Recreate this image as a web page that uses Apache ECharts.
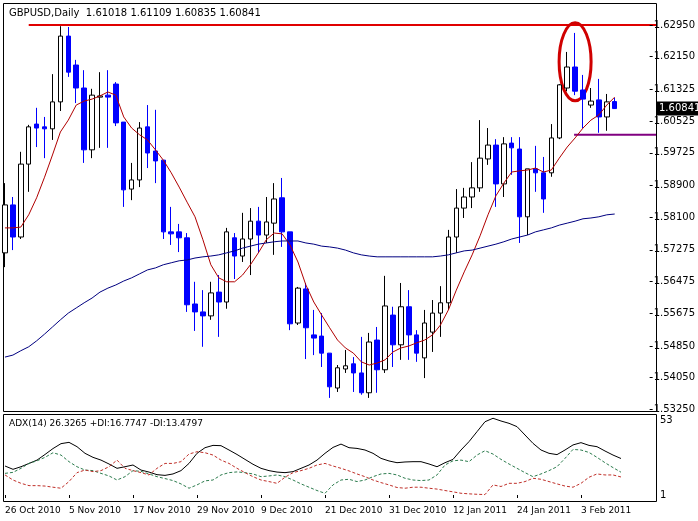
<!DOCTYPE html>
<html>
<head>
<meta charset="utf-8">
<script src="https://cdn.jsdelivr.net/npm/echarts@6/dist/echarts.min.js"></script>
<style>html,body{margin:0;padding:0;background:#fff;}#chart{width:698px;height:521px;}</style>
</head>
<body>
<div id="chart"></div>
<script>
// GBPUSD daily candles, 26 Oct 2010 .. 10 Feb 2011 (weekdays)
const opens = [1.5720,1.5841,1.5760,1.5944,1.6045,1.6038,1.6033,1.6101,1.6267,1.6194,
  1.6136,1.5980,1.6113,1.6118,1.6146,1.6050,1.5881,1.5904,1.6038,1.5977,
  1.5954,1.5773,1.5773,1.5758,1.5591,1.5571,1.5561,1.5621,1.5596,1.5758,
  1.5712,1.5755,1.5800,1.5765,1.5795,1.5859,1.5773,1.5543,1.5629,1.5513,
  1.5510,1.5467,1.5379,1.5427,1.5440,1.5417,1.5367,1.5500,1.5425,1.5563,
  1.5488,1.5584,1.5513,1.5455,1.5520,1.5568,1.5594,1.5760,1.5833,1.5861,
  1.5884,1.5957,1.5992,1.5894,1.5997,1.5982,1.5811,1.5932,1.5922,1.5922,
  1.6010,1.6136,1.6189,1.6131,1.6093,1.6106,1.6063,1.61018];
const closes = [1.5841,1.5760,1.5944,1.6038,1.6035,1.6033,1.6101,1.6267,1.6176,1.6136,
  1.5980,1.6118,1.6116,1.6113,1.6048,1.5879,1.5904,1.6035,1.5972,1.5952,
  1.5773,1.5768,1.5758,1.5589,1.5571,1.5561,1.5619,1.5596,1.5773,1.5712,
  1.5755,1.5800,1.5765,1.5798,1.5856,1.5773,1.5541,1.5631,1.5531,1.5505,
  1.5467,1.5382,1.5430,1.5435,1.5417,1.5367,1.5495,1.5425,1.5586,1.5488,
  1.5584,1.5513,1.5467,1.5543,1.5568,1.5594,1.5760,1.5833,1.5861,1.5884,
  1.5959,1.5992,1.5894,1.5995,1.5985,1.5811,1.5932,1.5922,1.5856,1.6010,
  1.6144,1.6189,1.6128,1.6108,1.6103,1.6063,1.6101,1.60841];
const lows = [1.5684,1.5727,1.5755,1.5874,1.5987,1.5959,1.6005,1.6078,1.6164,1.6098,
  1.5947,1.5959,1.5985,1.5985,1.6040,1.5836,1.5853,1.5886,1.5934,1.5896,
  1.5755,1.5740,1.5722,1.5571,1.5523,1.5483,1.5551,1.5508,1.5579,1.5654,
  1.5697,1.5664,1.5720,1.5745,1.5715,1.5735,1.5525,1.5538,1.5452,1.5462,
  1.5432,1.5354,1.5369,1.5417,1.5369,1.5362,1.5354,1.5367,1.5417,1.5432,
  1.5450,1.5450,1.5445,1.5404,1.5470,1.5508,1.5576,1.5720,1.5808,1.5833,
  1.5874,1.5942,1.5836,1.5861,1.5917,1.5745,1.5765,1.5874,1.5821,1.5912,
  1.6007,1.6128,1.6118,1.6035,1.6086,1.6023,1.6028,1.60835];
const highs = [1.5896,1.5861,1.5975,1.6043,1.6086,1.6063,1.6171,1.6292,1.6290,1.6207,
  1.6181,1.6134,1.6176,1.6181,1.6151,1.6050,1.5947,1.6050,1.6093,1.6081,
  1.5954,1.5836,1.5793,1.5770,1.5647,1.5626,1.5647,1.5664,1.5783,1.5770,
  1.5821,1.5833,1.5836,1.5861,1.5896,1.5909,1.5773,1.5634,1.5644,1.5576,
  1.5568,1.5467,1.5437,1.5475,1.5457,1.5508,1.5518,1.5533,1.5662,1.5584,
  1.5644,1.5626,1.5525,1.5576,1.5601,1.5636,1.5778,1.5881,1.5884,1.5949,
  1.6055,1.6035,1.6007,1.6012,1.6012,1.6012,1.5932,1.5990,1.5962,1.6045,
  1.6146,1.6227,1.6275,1.6169,1.6136,1.6159,1.6121,1.61109];

// moving averages
const maFast = [1.5783,1.5783,1.5785,1.5816,1.5859,1.5911,1.5967,1.6025,1.6055,1.6093,
  1.6103,1.6108,1.6116,1.6126,1.6118,1.6063,1.6035,1.6018,1.6005,1.5980,
  1.5954,1.5922,1.5886,1.5848,1.5811,1.5753,1.5690,1.5657,1.5647,1.5647,
  1.5664,1.5690,1.5720,1.5753,1.5770,1.5768,1.5740,1.5697,1.5639,1.5596,
  1.5563,1.5531,1.5500,1.5480,1.5467,1.5445,1.5437,1.5442,1.5450,1.5470,
  1.5480,1.5485,1.5493,1.5500,1.5513,1.5538,1.5576,1.5626,1.5672,1.5715,
  1.5763,1.5816,1.5864,1.5896,1.5924,1.5927,1.5929,1.5934,1.5924,1.5929,
  1.5959,1.5987,1.6010,1.6035,1.6055,1.6068,1.6093,1.6113];
const maSlow = [1.5457,1.5462,1.5473,1.5483,1.5498,1.5515,1.5533,1.5551,1.5568,1.5581,
  1.5594,1.5606,1.5621,1.5631,1.5639,1.5649,1.5657,1.5667,1.5677,1.5682,
  1.5690,1.5695,1.5700,1.5702,1.5707,1.5710,1.5712,1.5715,1.5720,1.5725,
  1.5732,1.5737,1.5742,1.5745,1.5748,1.5750,1.5750,1.5750,1.5745,1.5742,
  1.5737,1.5735,1.5732,1.5727,1.5720,1.5715,1.5712,1.5710,1.5710,1.5710,
  1.5710,1.5710,1.5710,1.5710,1.5710,1.5712,1.5715,1.5720,1.5725,1.5727,
  1.5732,1.5737,1.5742,1.5748,1.5755,1.5760,1.5765,1.5773,1.5778,1.5783,
  1.5790,1.5795,1.5800,1.5806,1.5808,1.5811,1.5816,1.5818];

// ADX(14) panel
const adx = [21.1,18.8,20.6,22.9,25.2,29.1,33.2,36.6,37.5,34.5,
  29.9,27.1,25.2,22.5,19.5,20.6,21.8,18.3,16.9,15.1,
  14.6,15.6,17.9,22.9,29.9,33.8,35.4,35.2,32.2,29.1,
  25.7,22.3,19.5,17.9,16.9,16.5,17.2,19.5,21.8,25.2,
  29.9,34.0,36.3,33.8,33.3,32.2,29.9,26.4,24.6,23.4,
  23.9,24.1,24.1,22.5,20.6,23.4,25.7,32.2,38.0,44.9,
  51.8,54.2,52.3,50.7,48.4,42.6,36.8,32.2,29.9,29.0,
  32.2,35.7,37.3,35.4,34.5,31.5,28.7,26.3];
const diPlus = [16.0,16.7,19.5,22.9,24.7,27.1,30.3,28.7,24.1,20.6,
  18.3,17.9,16.0,14.2,11.4,13.7,17.9,17.4,15.6,13.7,
  12.4,11.0,8.7,5.7,8.0,10.8,11.4,14.9,16.5,17.0,
  16.5,15.6,13.7,14.2,14.9,13.7,11.4,8.7,6.4,4.1,
  2.2,8.0,11.4,11.9,10.3,11.4,13.7,15.6,16.0,14.9,
  12.6,11.4,11.0,11.4,14.9,21.8,24.7,25.2,24.1,28.7,
  31.7,29.4,25.7,22.5,19.5,16.5,13.7,15.6,17.9,20.6,
  26.4,32.6,32.2,30.5,27.1,23.4,20.0,16.8];
const diMinus = [14.9,11.4,9.1,7.5,7.5,7.2,6.4,5.7,10.3,16.5,
  18.3,17.2,17.9,20.6,25.2,19.5,17.9,16.5,14.9,19.5,
  22.9,22.9,24.1,29.4,31.0,30.3,28.7,25.2,22.9,19.5,
  16.5,13.7,11.4,10.3,9.1,13.3,16.5,17.9,19.5,21.8,
  22.9,21.1,19.5,17.7,15.6,13.7,11.4,9.6,8.0,6.2,
  5.7,6.4,6.4,5.7,5.1,4.1,3.2,2.2,1.8,1.5,
  1.3,8.0,6.9,9.1,9.1,10.3,12.6,11.9,10.3,8.7,
  7.2,6.4,9.1,13.3,15.6,14.9,14.9,13.5];

const priceTicks = ['1.62950','1.62150','1.61325','1.60525','1.59725','1.58900','1.58100',
  '1.57275','1.56475','1.55675','1.54850','1.54050','1.53250'];
const resistance = 1.6295;
const support = 1.6018;

const months = ['Jan','Feb','Mar','Apr','May','Jun','Jul','Aug','Sep','Oct','Nov','Dec'];
const dates = [];
for (let d = new Date(2010, 9, 26); dates.length < opens.length; d.setDate(d.getDate() + 1)) {
    if (d.getDay() === 0 || d.getDay() === 6) continue;
    dates.push(d.getDate() + ' ' + months[d.getMonth()] + ' ' + d.getFullYear());
}

const font = 'DejaVu Sans';
const chart = echarts.init(document.getElementById('chart'));
chart.setOption({
    animation: false,
    backgroundColor: '#fff',
    grid: [
        {left: 1, width: 624, top: 25, height: 384.4},
        {left: 1, width: 624, top: 420, height: 75}
    ],
    xAxis: [
        {type: 'category', gridIndex: 0, data: dates, boundaryGap: true,
            axisLine: {show: false}, axisTick: {show: false}, axisLabel: {show: false}},
        {type: 'category', gridIndex: 1, data: dates, boundaryGap: true,
            axisLine: {show: false},
            axisTick: {show: true, interval: 7, length: 3, lineStyle: {color: '#000'}, alignWithLabel: true},
            axisLabel: {interval: 7, align: 'left', margin: 11, fontFamily: font, fontSize: 9, color: '#000'}}
    ],
    yAxis: [
        {type: 'value', gridIndex: 0, position: 'right', offset: 31, min: 1.5325, max: 1.6295,
            splitLine: {show: false}, axisLine: {show: false},
            axisTick: {show: true, length: 3, lineStyle: {color: '#000'}, customValues: priceTicks.map(Number)},
            axisLabel: {customValues: priceTicks.map(Number), margin: 4, fontFamily: font, fontSize: 10, color: '#000',
                formatter: v => v.toFixed(5)}},
        {type: 'value', gridIndex: 1, position: 'right', offset: 31, min: 1, max: 53,
            splitLine: {show: false}, axisLine: {show: false},
            axisTick: {show: false},
            axisLabel: {customValues: [1, 53], margin: 4, fontFamily: font, fontSize: 10, color: '#000'}}
    ],
    series: [
        {type: 'candlestick', xAxisIndex: 0, yAxisIndex: 0, barWidth: 5, clip: false,
            data: opens.map((o, i) => [o, closes[i], lows[i], highs[i]]),
            itemStyle: {color: '#fff', borderColor: '#000', color0: '#0000ff', borderColor0: '#0000ff', borderWidth: 1}},
        {type: 'line', xAxisIndex: 0, yAxisIndex: 0, data: maFast, symbol: 'none', clip: false,
            lineStyle: {color: '#b00000', width: 1}},
        {type: 'line', xAxisIndex: 0, yAxisIndex: 0, data: maSlow, symbol: 'none', clip: false,
            lineStyle: {color: '#000080', width: 1}},
        {type: 'line', xAxisIndex: 1, yAxisIndex: 1, data: adx, symbol: 'none', clip: false,
            lineStyle: {color: '#000', width: 1}},
        {type: 'line', xAxisIndex: 1, yAxisIndex: 1, data: diPlus, symbol: 'none', clip: false,
            lineStyle: {color: '#2e7d4f', width: 1, type: [3, 2]}},
        {type: 'line', xAxisIndex: 1, yAxisIndex: 1, data: diMinus, symbol: 'none', clip: false,
            lineStyle: {color: '#c0302a', width: 1, type: [3, 2]}}
    ]
});

// annotations placed through the chart's own scales
const px = (i, v) => chart.convertToPixel({gridIndex: 0}, [dates[i], v]);
const rStart = px(3, resistance);
const sStart = px(72, support);
const ell = px(72, 1.6202);
const last = px(77, closes[closes.length - 1]);
chart.setOption({
    graphic: [
        {type: 'rect', shape: {x: 3.5, y: 3.5, width: 653, height: 408}, style: {fill: null, stroke: '#000', lineWidth: 1}, silent: true},
        {type: 'rect', shape: {x: 3.5, y: 414.5, width: 653, height: 87}, style: {fill: null, stroke: '#000', lineWidth: 1}, silent: true},
        {type: 'line', shape: {x1: rStart[0], y1: rStart[1], x2: 656, y2: rStart[1]}, style: {stroke: '#e00000', lineWidth: 2}},
        {type: 'line', shape: {x1: sStart[0] - 1, y1: sStart[1], x2: 656, y2: sStart[1]}, style: {stroke: '#800080', lineWidth: 2}},
        {type: 'ellipse', shape: {cx: ell[0], cy: ell[1], rx: 16, ry: 39}, style: {fill: null, stroke: '#d00000', lineWidth: 3}},
        {type: 'rect', shape: {x: 657, y: last[1] - 7, width: 41, height: 14}, style: {fill: '#000'}},
        {type: 'text', x: 659, y: last[1], style: {text: '1.60841', fill: '#fff', font: '10px ' + font, verticalAlign: 'middle'}},
        {type: 'text', x: 9, y: 13, style: {text: 'GBPUSD,Daily  1.61018 1.61109 1.60835 1.60841', fill: '#000', font: '10px ' + font, verticalAlign: 'middle'}},
        {type: 'text', x: 9, y: 424, style: {text: 'ADX(14) 26.3265 +DI:16.7747 -DI:13.4797', fill: '#000', font: '9px ' + font, verticalAlign: 'middle'}}
    ]
});
</script>
</body>
</html>
